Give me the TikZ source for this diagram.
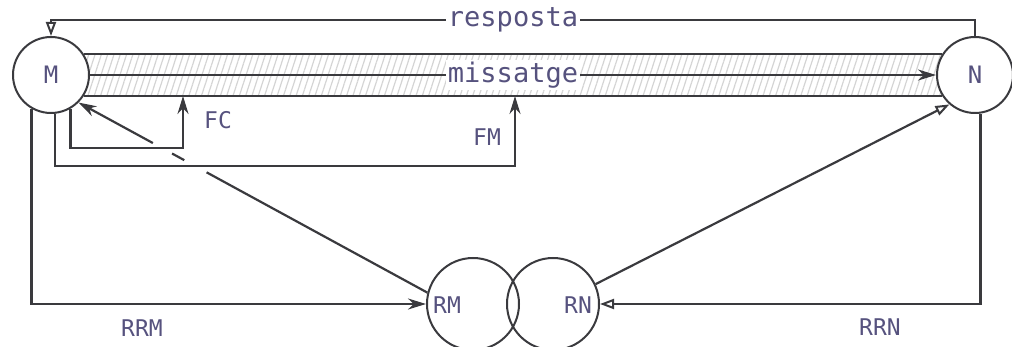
\documentclass[tikz,border=0pt]{standalone}
\usepackage{fontspec}
\setmonofont{DejaVu Sans Mono}
\usetikzlibrary{arrows.meta,calc,backgrounds,patterns.meta}
\definecolor{ink}{HTML}{3A3A3E}
\definecolor{txt}{HTML}{56527E}
\tikzset{
  unit/.style={circle, draw=ink, line width=2pt, fill=white, minimum size=76pt, inner sep=0pt,
    text=txt, font=\ttfamily\fontsize{24}{27}\selectfont},
  rbox/.style={circle, draw=ink, line width=2pt, minimum size=92pt, inner sep=0pt},
  wire/.style={draw=ink, line width=2.2pt},
  fillarrow/.style={wire, -{Stealth[length=18pt,width=11pt]}},
  openarrow/.style={wire, -{Triangle[open,length=14pt,width=10pt,line width=2pt]}},
  word/.style={fill=white, inner sep=2pt, text=txt, font=\ttfamily\fontsize{27}{30}\selectfont},
  tag/.style={text=txt, inner sep=0pt, font=\ttfamily\fontsize{23}{26}\selectfont},
}
\begin{document}
\begin{tikzpicture}[x=1pt,y=-1pt]
\useasboundingbox (0,0) rectangle (1012,347);

% stations and their registers
\node[unit] (M) at (51,75) {M};
\node[unit] (N) at (975,75) {N};
\node[rbox] (RM) at (473,304) {};
\node[rbox,fill=none] (RN) at (553,304) {};
\node[tag] (rmlabel) at (447,305) {RM};
\node[tag] (rnlabel) at (578,305) {RN};

% shaded message channel between the two stations
\begin{scope}[on background layer]
  \fill[pattern={Lines[angle=72,distance=6pt,line width=1.2pt]}, pattern color=black!17]
    (M.33) rectangle (N.-147);
\end{scope}
\draw[wire] (M.33) -- (N.147);
\draw[wire] (M.-32) -- (N.-148);
\draw[fillarrow] (M.east) -- node[word, pos=0.5] (msg) {missatge} (N.west);

% reply path over the top
\coordinate (rtop) at (975,20);
\draw[openarrow] (N.north) -- (rtop) -| node[word, pos=0.25] (resp) {resposta} (M.north);

% feedback loops into the channel
\coordinate (fcTarget) at (183,96);
\coordinate (fcCorner) at (183,148);
\coordinate (fmTarget) at (515,96);
\coordinate (fmCorner) at (515,166);
\draw[fillarrow] (M.-60) |- (fcCorner) -- (fcTarget);
\draw[fillarrow] (M.-84) |- (fmCorner) -- (fmTarget);
\node[tag] (fc) at (218,120) {FC};
\node[tag] (fm) at (487,137) {FM};

% register outputs, the diagonal passes under both loops
\draw[fillarrow] ($(M.-45)!0.213!(RM.166)$) -- (M.-45);
\draw[wire] ($(M.-45)!0.268!(RM.166)$) -- ($(M.-45)!0.303!(RM.166)$);
\draw[wire] ($(M.-45)!0.367!(RM.166)$) -- (RM.166);
\draw[openarrow] (RN.25) -- (N.-131);

% returns into the registers
\draw[fillarrow] (M.-120) |- (RM.west);
\draw[openarrow] (N.-82) |- (RN.east);
\node[tag] (rrm) at (142,328) {RRM};
\node[tag] (rrn) at (880,327) {RRN};
\end{tikzpicture}
\end{document}
